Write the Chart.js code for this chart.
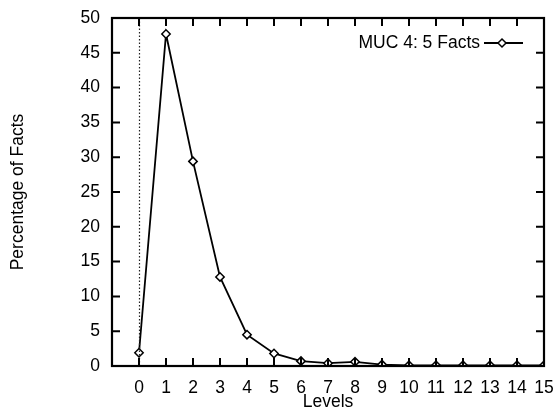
<!DOCTYPE html>
<html>
<head>
<meta charset="utf-8">
<script src="https://cdn.jsdelivr.net/npm/chart.js@4/dist/chart.umd.min.js"></script>
<style>
  html, body { margin: 0; padding: 0; background: #fff; }
  #wrap { width: 556px; height: 410px; }
</style>
</head>
<body>
<div id="wrap"><canvas id="c" width="556" height="410"></canvas></div>
<script>
const levels = [0, 1, 2, 3, 4, 5, 6, 7, 8, 9, 10, 11, 12, 13, 14, 15];
const percentages = [1.9, 47.7, 29.4, 12.8, 4.5, 1.8, 0.7, 0.4, 0.6, 0.2, 0.1, 0.1, 0.1, 0.1, 0.1, 0.1];
const seriesLabel = 'MUC 4: 5 Facts';
const xTickValues = [0, 1, 2, 3, 4, 5, 6, 7, 8, 9, 10, 11, 12, 13, 14, 15];
const yTickValues = [0, 5, 10, 15, 20, 25, 30, 35, 40, 45, 50];
const xTitle = 'Levels';
const yTitle = 'Percentage of Facts';

const FONT = "'Liberation Sans', Arial, Helvetica, sans-serif";
const FSIZE = 17.5;
Chart.defaults.font.family = FONT;
Chart.defaults.font.size = FSIZE;
Chart.defaults.color = '#000';

const framePlugin = {
  id: 'frame',
  afterDatasetsDraw(chart) {
    const ctx = chart.ctx;
    const {left, right, top, bottom} = chart.chartArea;
    const xs = chart.scales.x, ys = chart.scales.y;
    ctx.save();
    // dotted zero line
    ctx.strokeStyle = '#222';
    ctx.lineWidth = 1.2;
    ctx.setLineDash([1.5, 2]);
    const x0 = Math.round(xs.getPixelForValue(0)) + 0.5;
    ctx.beginPath(); ctx.moveTo(x0, top); ctx.lineTo(x0, bottom); ctx.stroke();
    ctx.setLineDash([]);
    // frame
    ctx.strokeStyle = '#000';
    ctx.lineWidth = 2.2;
    ctx.strokeRect(left, top, right - left, bottom - top);
    // inward ticks
    ctx.lineWidth = 2;
    const tl = 8;
    ctx.beginPath();
    xTickValues.forEach(v => {
      const px = xs.getPixelForValue(v);
      ctx.moveTo(px, bottom); ctx.lineTo(px, bottom - tl);
      ctx.moveTo(px, top); ctx.lineTo(px, top + tl);
    });
    yTickValues.forEach(v => {
      const py = ys.getPixelForValue(v);
      ctx.moveTo(left, py); ctx.lineTo(left + tl, py);
      ctx.moveTo(right, py); ctx.lineTo(right - tl, py);
    });
    ctx.stroke();
    // legend
    const ds = chart.data.datasets[0];
    const ly = 43;
    ctx.font = FSIZE + 'px ' + FONT;
    ctx.fillStyle = '#000';
    ctx.textAlign = 'right';
    ctx.textBaseline = 'middle';
    ctx.fillText(ds.label, 480, ly);
    ctx.lineWidth = 1.8;
    ctx.beginPath(); ctx.moveTo(484, ly); ctx.lineTo(523, ly); ctx.stroke();
    const mx = 502, r = 4;
    ctx.beginPath();
    ctx.moveTo(mx, ly - r); ctx.lineTo(mx + r, ly); ctx.lineTo(mx, ly + r); ctx.lineTo(mx - r, ly); ctx.closePath();
    ctx.fillStyle = '#fff'; ctx.fill(); ctx.lineWidth = 1.5; ctx.stroke();
    ctx.restore();
  }
};

new Chart(document.getElementById('c'), {
  type: 'line',
  data: {
    datasets: [{
      label: seriesLabel,
      data: levels.map((l, i) => ({x: l, y: percentages[i]})),
      borderColor: '#000',
      borderWidth: 1.8,
      backgroundColor: '#fff',
      pointStyle: 'rectRot',
      pointRadius: 4.2,
      pointBorderWidth: 1.5,
      pointBorderColor: '#000',
      pointBackgroundColor: '#fff',
      tension: 0,
      fill: false
    }]
  },
  options: {
    responsive: false,
    animation: false,
    devicePixelRatio: 1,
    layout: { padding: { top: 18, right: 12, left: 0, bottom: 0 } },
    plugins: { legend: { display: false }, tooltip: { enabled: false } },
    scales: {
      x: {
        type: 'linear',
        min: -1, max: 15,
        afterBuildTicks(scale) { scale.ticks = xTickValues.map(v => ({value: v})); },
        ticks: { padding: 12, maxRotation: 0, autoSkip: false, callback: v => String(v) },
        grid: { display: false, drawTicks: false },
        border: { display: false },
        title: { display: true, text: xTitle, padding: { top: 0, bottom: -3 } },
        afterFit(scale) { scale.height = 44; scale.paddingLeft = 0; scale.paddingRight = 0; }
      },
      y: {
        min: 0, max: 50,
        afterBuildTicks(scale) { scale.ticks = yTickValues.map(v => ({value: v})); },
        ticks: { padding: 12 },
        grid: { display: false, drawTicks: false },
        border: { display: false },
        title: { display: true, text: yTitle, padding: { top: 8, bottom: 0 } },
        afterFit(scale) { scale.width = 112; scale.paddingTop = 0; scale.paddingBottom = 0; }
      }
    }
  },
  plugins: [framePlugin]
});
</script>
</body>
</html>
